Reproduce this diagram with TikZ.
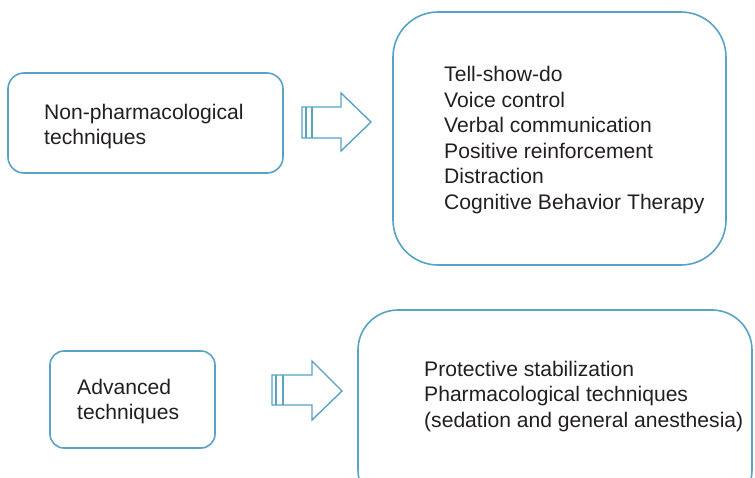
\documentclass[tikz,border=0pt]{standalone}
\usepackage{fontspec}
\setmainfont{Liberation Sans}
\begin{document}
\begin{tikzpicture}[x=1pt,y=-1pt,
  edge/.style={draw=frame,line width=1.6pt},
  box/.style={edge,rectangle,inner sep=0pt},
  txt/.style={inner sep=0pt,align=left,text=ink,anchor=west,
    font=\fontsize{21.1}{25.5}\selectfont},
  blockarrow/.style={draw=frame,line width=1.4pt,line join=miter}]
\definecolor{frame}{RGB}{88,162,196}
\definecolor{ink}{RGB}{35,31,32}
\useasboundingbox (0,0) rectangle (755,477);

% boxes
\node[box,minimum width=275pt,minimum height=100pt,rounded corners=16pt] (np) at (145.5,123) {};
\node[box,minimum width=333pt,minimum height=253pt,rounded corners=45pt] (list) at (559.5,138.5) {};
\node[box,minimum width=165pt,minimum height=97pt,rounded corners=14pt] (adv) at (132.5,399.5) {};
\node[box,minimum width=394pt,minimum height=200pt,rounded corners=40pt] (advlist) at (555,410) {};

% texts
\node[txt] (nptext) at (44,126.5) {Non-pharmacological\\techniques};
\node[txt] (listtext) at (444,140) {Tell-show-do\\Voice control\\Verbal communication\\Positive reinforcement\\Distraction\\Cognitive Behavior Therapy};
\node[txt] (advtext) at (77,401.5) {Advanced\\techniques};
\node[txt] (advlisttext) at (424,396.5) {Protective stabilization\\Pharmacological techniques\\(sedation and general anesthesia)};

% block arrows
\draw[blockarrow] (302,107) -- (341,107) -- (341,93) -- (371,122) -- (341,151) -- (341,138) -- (302,138) -- cycle;
\draw[blockarrow] (306,107) -- (306,138) (312,107) -- (312,138);
\draw[blockarrow] (272,375) -- (312,375) -- (312,361) -- (342,391) -- (312,420) -- (312,405) -- (272,405) -- cycle;
\draw[blockarrow] (276,375) -- (276,405) (283,375) -- (283,405);
\end{tikzpicture}
\end{document}
